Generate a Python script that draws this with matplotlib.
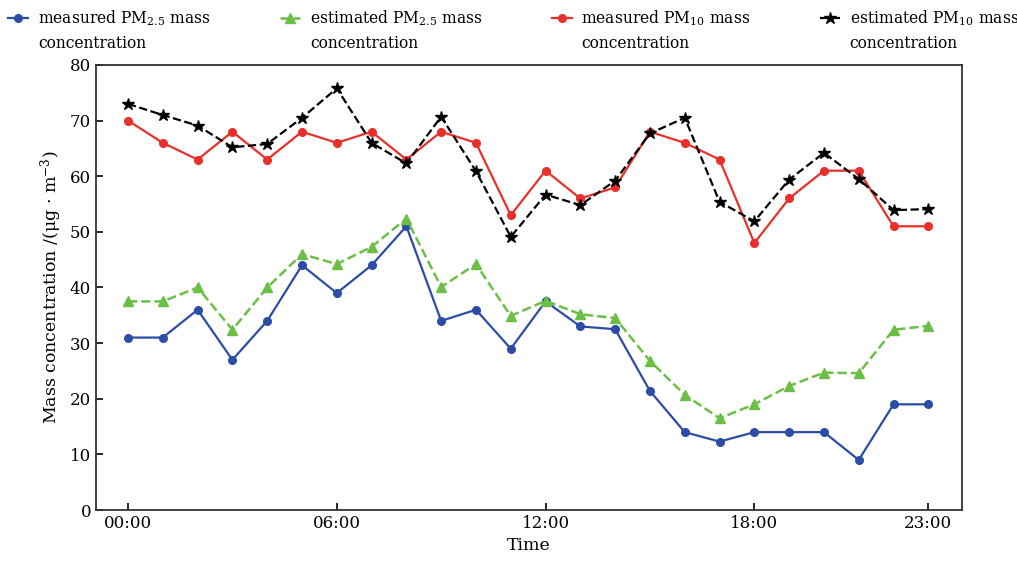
import matplotlib
matplotlib.use("Agg")
import matplotlib.pyplot as plt
from matplotlib.legend_handler import HandlerLine2D

# hourly values
hours = list(range(24))
tick_hours = [0, 6, 12, 18, 23]
tick_labels = ["00:00", "06:00", "12:00", "18:00", "23:00"]

pm25_measured = [31, 31, 36, 27, 34, 44, 39, 44, 51, 34, 36, 29,
                 37.5, 33, 32.5, 21.4, 14, 12.3, 14, 14, 14, 9, 19, 19]
pm25_estimated = [37.5, 37.5, 40, 32.4, 40, 46, 44.2, 47.3, 52.4, 40.1, 44.2, 34.9,
                  37.6, 35.2, 34.5, 26.8, 20.7, 16.5, 19, 22.3, 24.7, 24.6, 32.4, 33.1]
pm10_measured = [70, 66, 63, 68, 63, 68, 66, 68, 63, 68, 66, 53,
                 61, 56, 58, 68, 66, 63, 48, 56, 61, 61, 51, 51]
pm10_estimated = [73, 71, 69.1, 65.2, 65.8, 70.5, 75.8, 66, 62.3, 70.7, 60.9, 49.1,
                  56.7, 54.8, 59.2, 67.7, 70.5, 55.4, 51.9, 59.4, 64.2, 59.5, 53.9, 54.1]


class RaisedLine(HandlerLine2D):
    # put the legend handle level with the first line of a two-line label
    def __init__(self, shift, **kw):
        super().__init__(**kw)
        self.shift = shift

    def create_artists(self, legend, orig_handle, xdescent, ydescent,
                       width, height, fontsize, trans):
        return super().create_artists(legend, orig_handle, xdescent,
                                      ydescent - 2 * self.shift,
                                      width, height, fontsize, trans)


plt.rcParams["font.family"] = ["DejaVu Serif"]
plt.rcParams["mathtext.fontset"] = "dejavuserif"

fig = plt.figure(figsize=(10.17, 5.64), dpi=100)
ax = fig.add_axes([0.0944, 0.0957, 0.8516, 0.7891])

ax.plot(hours, pm25_measured, color="#2b4da6", lw=1.6, marker="o", ms=5.5,
        label="measured PM$_{2.5}$ mass\nconcentration")
ax.plot(hours, pm25_estimated, color="#6cbf46", lw=1.8, ls="--", marker="^", ms=6.5,
        label="estimated PM$_{2.5}$ mass\nconcentration")
ax.plot(hours, pm10_measured, color="#e8302a", lw=1.6, marker="o", ms=5.5,
        label="measured PM$_{10}$ mass\nconcentration")
ax.plot(hours, pm10_estimated, color="black", lw=1.6, ls="--", marker="*", ms=9,
        label="estimated PM$_{10}$ mass\nconcentration")

ax.set_xlim(-0.92, 23.97)
ax.set_ylim(0, 80)
ax.set_yticks(range(0, 81, 10))
ax.set_xticks(tick_hours)
ax.set_xticklabels(tick_labels)
ax.tick_params(direction="in", labelsize=12, length=5, width=1.2, top=False, right=False)
for s in ax.spines.values():
    s.set_linewidth(1.3)
    s.set_color("#333333")

ax.set_xlabel("Time", fontsize=12.5)
ax.set_ylabel("Mass concentration /(μg · m$^{-3}$)", fontsize=12.5)

leg = fig.legend(loc="center left", bbox_to_anchor=(0.002, 0.947), ncol=4, frameon=False,
                 fontsize=11.2, handlelength=1.3, columnspacing=4.45, handletextpad=0.62,
                 borderaxespad=0.0,
                 handler_map={plt.Line2D: RaisedLine(9.2)})
for t in leg.get_texts():
    t.set_linespacing(1.53)

plt.savefig("out.png", dpi=100)
plt.close()
